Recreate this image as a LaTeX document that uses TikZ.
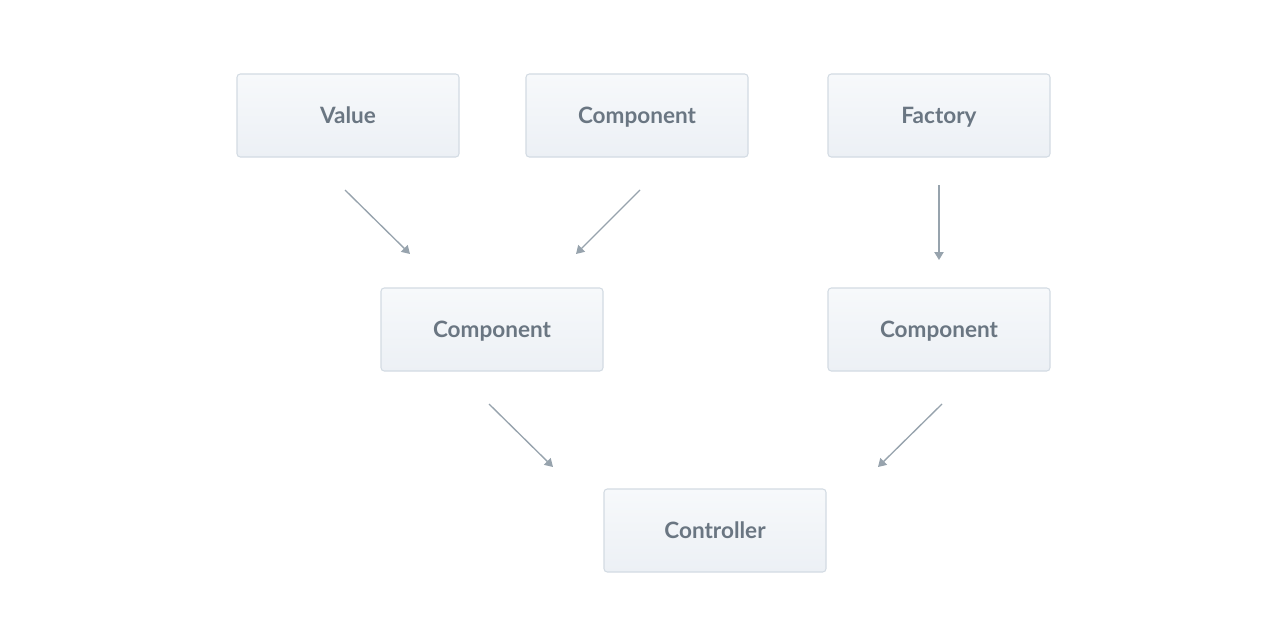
\documentclass[tikz,border=0pt]{standalone}
\usepackage{fontspec}
\setmainfont{Lato}
\usetikzlibrary{arrows.meta}
\definecolor{boxtop}{HTML}{F7F9FB}
\definecolor{boxbot}{HTML}{ECF0F5}
\definecolor{boxline}{HTML}{D3DBE3}
\definecolor{labeltext}{HTML}{6A7682}
\definecolor{arrowcol}{HTML}{97A3AD}
\tikzset{
  px/.style={x=0.75pt,y=-0.75pt},
  card/.style={draw=boxline, line width=0.8pt, rounded corners=2.5pt,
    top color=boxtop, bottom color=boxbot,
    minimum width=166.5pt, minimum height=62.25pt, inner sep=0pt,
    text height=12.2pt, text depth=0pt,
    font=\fontsize{16.9}{19}\selectfont\bfseries, text=labeltext},
  link/.style={draw=arrowcol, line width=1pt,
    -{Triangle[length=6pt,width=7pt]}}
}
\begin{document}
\begin{tikzpicture}[px]
\useasboundingbox (0,0) rectangle (1282,642);
\fill[white] (0,0) rectangle (1282,642);
% top row
\node[card] (value)  at (348,115.5) {Value};
\node[card] (comp1)  at (637,115.5) {Component};
\node[card] (fact)   at (939,115.5) {Factory};
% middle row
\node[card] (comp2)  at (492,329.5) {Component};
\node[card] (comp3)  at (939,329.5) {Component};
% bottom
\node[card] (ctrl)   at (715,530.5) {Controller};
% connector end points
\coordinate (a1s) at (345,190); \coordinate (a1e) at (410,254);
\coordinate (a2s) at (640,190); \coordinate (a2e) at (576,254);
\coordinate (a3s) at (939,185); \coordinate (a3e) at (939,260);
\coordinate (a4s) at (489,404); \coordinate (a4e) at (553,467);
\coordinate (a5s) at (942,404); \coordinate (a5e) at (878,467);
\draw[link] (a1s) -- (a1e);
\draw[link] (a2s) -- (a2e);
\draw[link] (a3s) -- (a3e);
\draw[link] (a4s) -- (a4e);
\draw[link] (a5s) -- (a5e);
\end{tikzpicture}
\end{document}
